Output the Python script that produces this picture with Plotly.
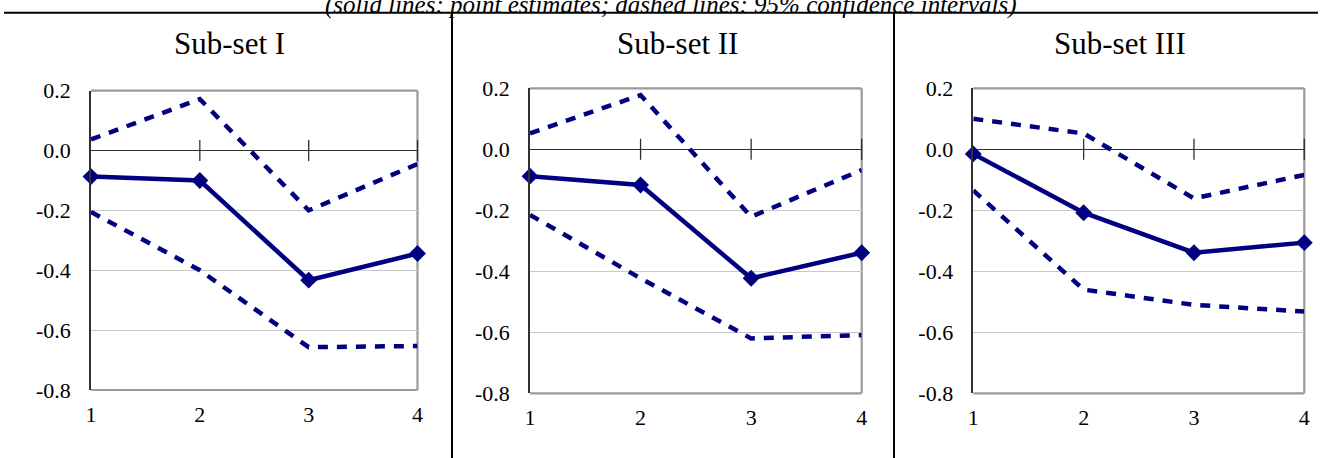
import plotly.graph_objects as go

# Horizon (1..4) and the three sub-set estimates with their 95% bounds
horizons = [1, 2, 3, 4]
x_tick_labels = ["1", "2", "3", "4"]
y_ticks = [0.2, 0.0, -0.2, -0.4, -0.6, -0.8]
y_tick_labels = ["0.2", "0.0", "-0.2", "-0.4", "-0.6", "-0.8"]

panel_titles = ["Sub-set I", "Sub-set II", "Sub-set III"]

est_1 = [-0.087, -0.100, -0.433, -0.344]
upper_1 = [0.037, 0.172, -0.200, -0.045]
lower_1 = [-0.205, -0.400, -0.657, -0.653]

est_2 = [-0.088, -0.117, -0.423, -0.339]
upper_2 = [0.052, 0.178, -0.221, -0.068]
lower_2 = [-0.215, -0.423, -0.620, -0.609]

est_3 = [-0.015, -0.208, -0.339, -0.306]
upper_3 = [0.100, 0.052, -0.161, -0.084]
lower_3 = [-0.135, -0.460, -0.510, -0.532]

caption = "(solid lines: point estimates; dashed lines: 95% confidence intervals)"

W, H = 1321, 458
NAVY = "#000080"
FONT = "Liberation Serif, Times New Roman, serif"

# Plot-area boxes in pixels: (left, right, top, bottom)
boxes = [
    (91, 417.5, 90.7, 390),
    (530, 861.7, 88.3, 393.3),
    (973.3, 1304.3, 88.3, 393.3),
]
title_centers = [229, 677, 1120]

panels = [
    (est_1, upper_1, lower_1),
    (est_2, upper_2, lower_2),
    (est_3, upper_3, lower_3),
]

fig = go.Figure()
shapes = []
annotations = []

for i, ((est, up, lo), (l, r, t, b)) in enumerate(zip(panels, boxes)):
    n = "" if i == 0 else str(i + 1)
    xa, ya = "x" + n, "y" + n

    for bound in (up, lo):
        fig.add_trace(go.Scatter(
            x=horizons, y=bound, xaxis=xa, yaxis=ya, mode="lines",
            line=dict(color=NAVY, width=4.5, dash="10px,9px"),
            hoverinfo="skip", showlegend=False,
        ))
    fig.add_trace(go.Scatter(
        x=horizons, y=est, xaxis=xa, yaxis=ya, mode="lines+markers",
        line=dict(color=NAVY, width=4.5),
        marker=dict(symbol="diamond", size=13, color=NAVY),
        cliponaxis=False, showlegend=False,
    ))
    # tick marks crossing the zero line
    fig.add_trace(go.Scatter(
        x=horizons[1:], y=[0] * (len(horizons) - 1), xaxis=xa, yaxis=ya,
        mode="markers",
        marker=dict(symbol="line-ns-open", size=15, color="#303030",
                    line=dict(color="#303030", width=1.3)),
        cliponaxis=False, hoverinfo="skip", showlegend=False,
    ))

    fig.layout["xaxis" + n] = dict(
        domain=[l / W, r / W], anchor=ya, range=[1, 4], automargin=False,
        tickmode="array", tickvals=horizons, ticktext=x_tick_labels,
        showgrid=False, zeroline=False, showline=False,
        ticks="", ticklabelstandoff=9,
        tickfont=dict(family=FONT, size=22, color="black"),
    )
    fig.layout["yaxis" + n] = dict(
        domain=[1 - b / H, 1 - t / H], anchor=xa, range=[-0.8, 0.2],
        automargin=False,
        tickmode="array", tickvals=y_ticks, ticktext=y_tick_labels,
        showgrid=True, gridcolor="#c8c8c8", gridwidth=1,
        zeroline=True, zerolinecolor="#303030", zerolinewidth=1.3,
        showline=True, linecolor="#303030", linewidth=1.5,
        ticks="", ticklabelstandoff=14,
        tickfont=dict(family=FONT, size=22, color="black"),
    )

    # grey frame on top, right and bottom
    xd, yd = xa + " domain", ya + " domain"
    for x0, y0, x1, y1 in [(0, 1, 1, 1), (1, 0, 1, 1), (0, 0, 1, 0)]:
        shapes.append(dict(type="line", xref=xd, yref=yd, x0=x0, y0=y0,
                           x1=x1, y1=y1, line=dict(color="#9a9a9a", width=2.2),
                           layer="below"))

    annotations.append(dict(
        text=panel_titles[i], x=title_centers[i] / W, y=1 - 43 / H,
        xref="paper", yref="paper", xanchor="center", yanchor="middle",
        showarrow=False, font=dict(family=FONT, size=31, color="black"),
    ))

# page rules: top line and column separators
shapes.append(dict(type="line", xref="paper", yref="paper",
                   x0=4 / W, x1=1318 / W, y0=1 - 12.8 / H, y1=1 - 12.8 / H,
                   line=dict(color="black", width=2)))
for sx in (452, 894):
    shapes.append(dict(type="line", xref="paper", yref="paper",
                       x0=sx / W, x1=sx / W, y0=0, y1=1 - 12.8 / H,
                       line=dict(color="black", width=2)))

annotations.append(dict(
    text="<i>" + caption + "</i>", x=671 / W, y=1 - 5.5 / H,
    xref="paper", yref="paper", xanchor="center", yanchor="middle",
    showarrow=False, font=dict(family=FONT, size=25, color="black"),
))

fig.update_layout(
    width=W, height=H, margin=dict(l=0, r=0, t=0, b=0, autoexpand=False),
    paper_bgcolor="white", plot_bgcolor="white",
    shapes=shapes, annotations=annotations, showlegend=False,
)

fig.write_html("out.html", config={"displayModeBar": False})
